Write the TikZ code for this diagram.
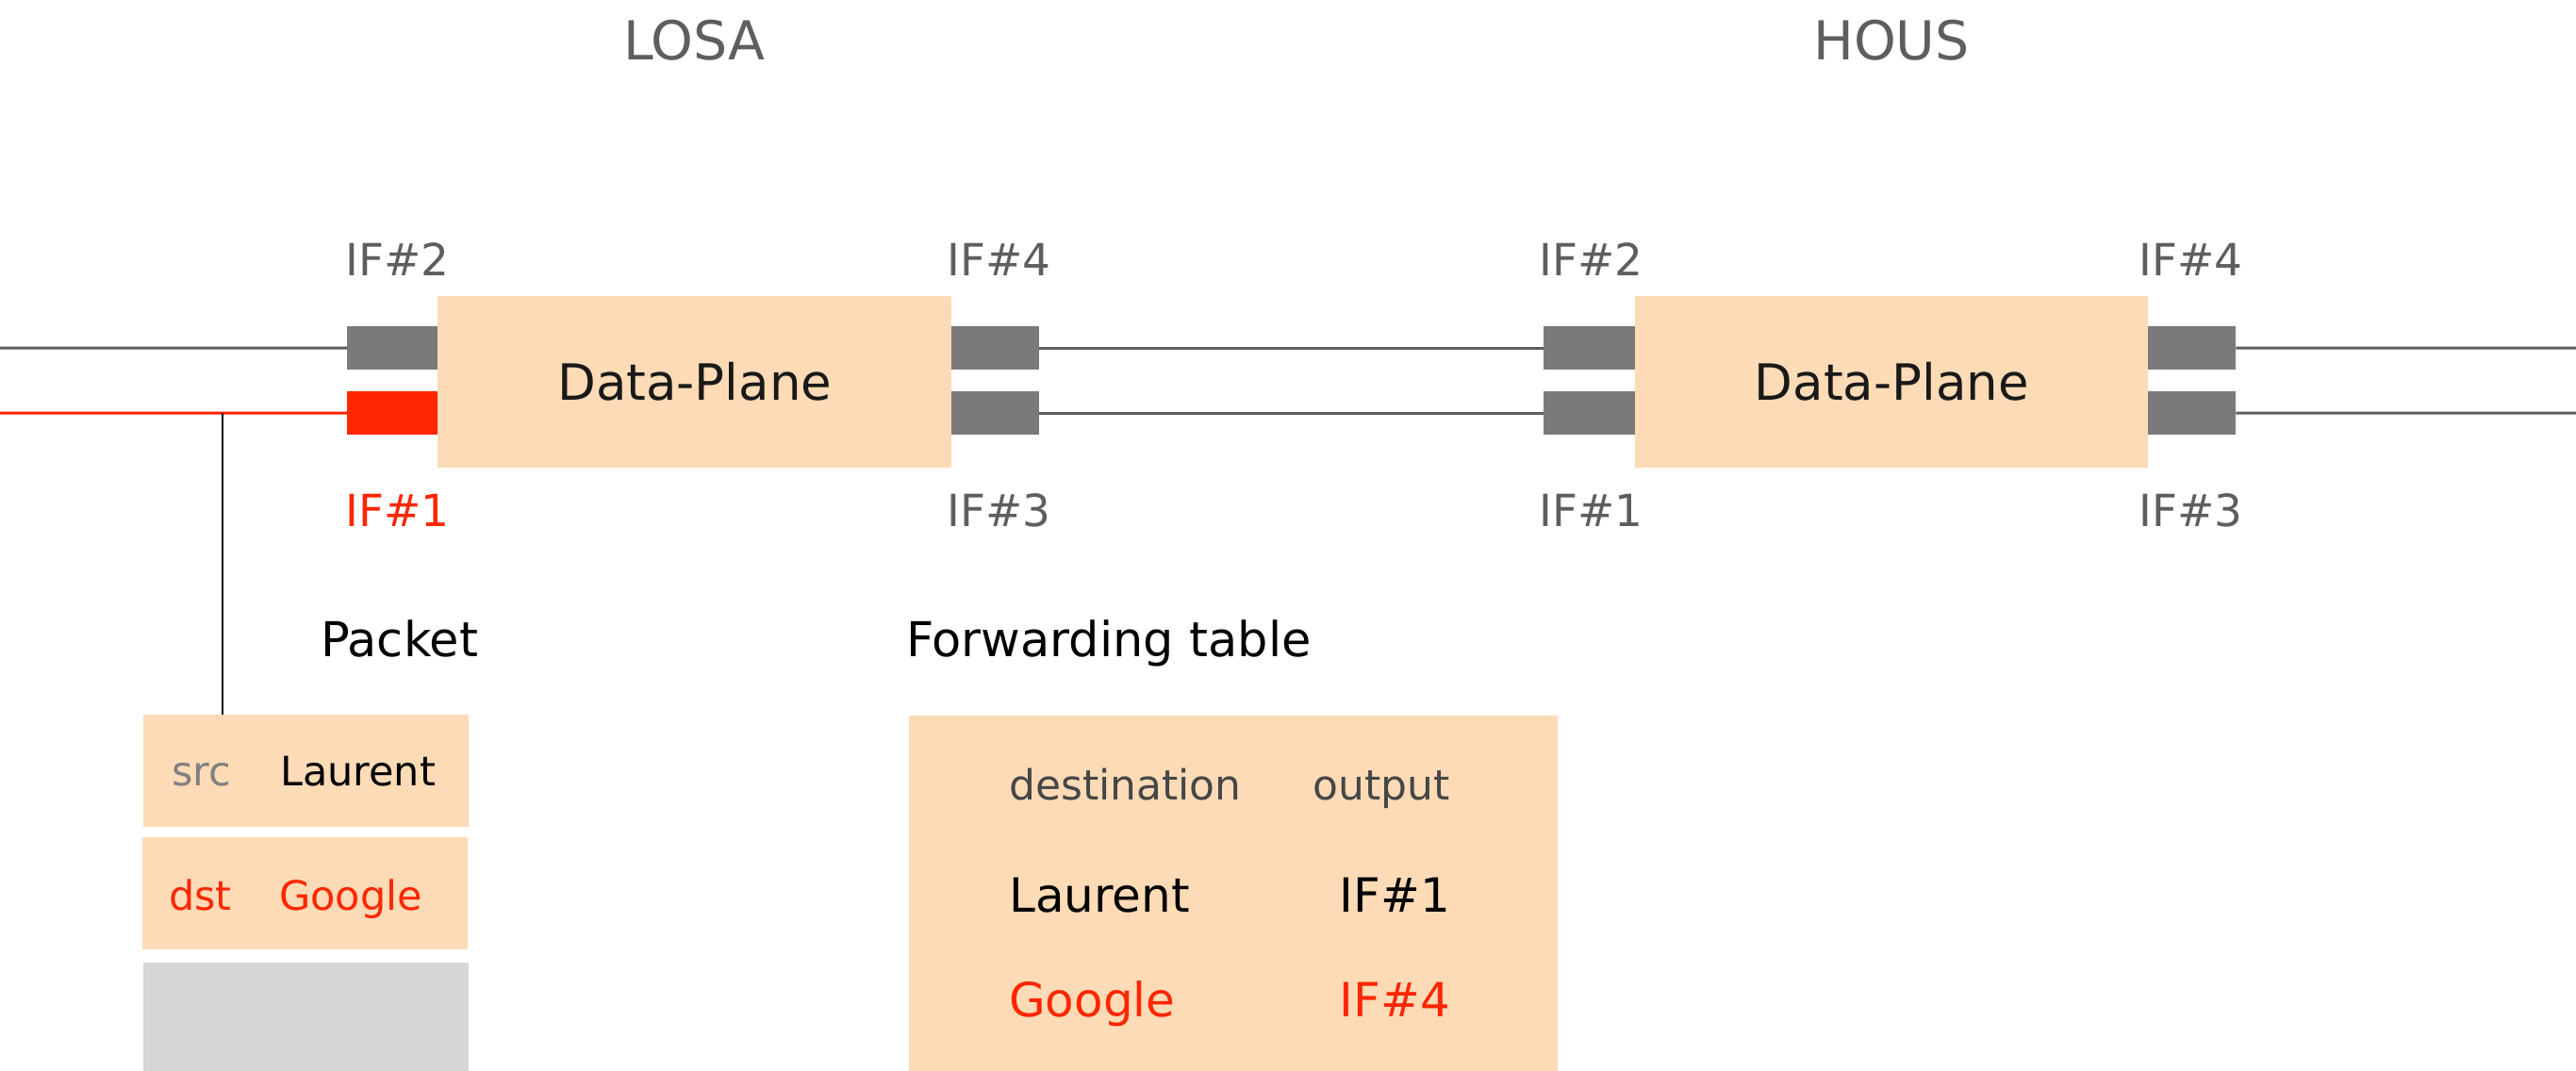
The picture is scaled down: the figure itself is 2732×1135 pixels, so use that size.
\documentclass[tikz,border=0pt]{standalone}
\usepackage{fontspec}
\setmainfont{DejaVu Sans}
\definecolor{peach}{HTML}{FDDBB6}
\definecolor{ifred}{HTML}{FF2600}
\definecolor{portgray}{HTML}{7A7A7A}
\definecolor{linegray}{HTML}{5E5E5E}
\definecolor{txtgray}{HTML}{5E5E5E}
\definecolor{srcgray}{HTML}{808080}
\definecolor{hdrgray}{HTML}{464646}
\definecolor{pktgray}{HTML}{D6D6D6}
\newcommand{\fsz}[1]{\fontsize{#1}{#1}\selectfont}
\tikzset{
  plane/.style={fill=peach, draw=none, minimum width=545pt, minimum height=182pt, inner sep=0pt, anchor=north west, font=\fsz{53}, text=black!90},
  port/.style={fill=portgray, draw=none, minimum height=46pt, inner sep=0pt, anchor=north west},
  iflbl/.style={text=txtgray, font=\fsz{47}, inner sep=0pt, anchor=base west},
  title/.style={text=txtgray, font=\fsz{57}, inner sep=0pt, anchor=base},
  wire/.style={draw=linegray, line width=3pt},
  pkt/.style={fill=peach, draw=none, minimum width=345pt, minimum height=119pt, inner sep=0pt, anchor=north west},
  heading/.style={text=black, font=\fsz{51}, inner sep=0pt, anchor=base west},
  pkttxt/.style={font=\fsz{43}, inner sep=0pt, anchor=base west},
  tbltxt/.style={font=\fsz{50}, inner sep=0pt},
  hdrtxt/.style={font=\fsz{44}, inner sep=0pt, text=hdrgray},
}
\begin{document}
\begin{tikzpicture}[x=1pt,y=-1pt]
\useasboundingbox (0,0) rectangle (2732,1135);
\clip (0,0) rectangle (2732,1135);

% titles
\node[title] (losa) at (736.5,63) {LOSA};
\node[title] (hous) at (2006,63) {HOUS};

% data planes
\node[plane] (dp1) at (464,314) {Data-Plane};
\node[plane, minimum width=544pt] (dp2) at (1734,314) {Data-Plane};

% ports
\node[port, minimum width=96pt] (p1if2) at (368,346) {};
\node[port, minimum width=96pt, fill=ifred] (p1if1) at (368,415) {};
\node[port, minimum width=93pt] (p1if4) at (1009,346) {};
\node[port, minimum width=93pt] (p1if3) at (1009,415) {};
\node[port, minimum width=97pt] (p2if2) at (1637,346) {};
\node[port, minimum width=97pt] (p2if1) at (1637,415) {};
\node[port, minimum width=93pt] (p2if4) at (2278,346) {};
\node[port, minimum width=93pt] (p2if3) at (2278,415) {};

% wires
\coordinate (w1) at (0,369);
\coordinate (w2) at (0,438);
\coordinate (e1) at (2732,369);
\coordinate (e2) at (2732,438);
\draw[wire] (w1) -- (p1if2.west);
\draw[wire, draw=ifred] (w2) -- (p1if1.west);
\draw[wire] (p1if4.east) -- (p2if2.west);
\draw[wire] (p1if3.east) -- (p2if1.west);
\draw[wire] (p2if4.east) -- (e1);
\draw[wire] (p2if3.east) -- (e2);

% interface labels
\node[iflbl] (l1if2) at (366,292) {IF\#2};
\node[iflbl, text=ifred] (l1if1) at (366,558) {IF\#1};
\node[iflbl] (l1if4) at (1004,292) {IF\#4};
\node[iflbl] (l1if3) at (1004,558) {IF\#3};
\node[iflbl] (l2if2) at (1632,292) {IF\#2};
\node[iflbl] (l2if1) at (1632,558) {IF\#1};
\node[iflbl] (l2if4) at (2268,292) {IF\#4};
\node[iflbl] (l2if3) at (2268,558) {IF\#3};

% packet
\node[heading] (pktlbl) at (340,696) {Packet};
\node[pkt] (src) at (152,758) {};
\node[pkt] (dst) at (151,888) {};
\node[pkt, fill=pktgray, minimum height=130pt] (rest) at (152,1021) {};
\node[pkttxt, text=srcgray] (srck) at (182,833) {src};
\node[pkttxt, text=black] (srcv) at (297,833) {Laurent};
\node[pkttxt, text=ifred] (dstk) at (179,965) {dst};
\node[pkttxt, text=ifred] (dstv) at (296,965) {Google};
\coordinate (tap) at (236,438);
\draw[line width=2pt, black] (tap) -- (tap |- src.north);

% forwarding table
\node[heading, font=\fsz{51}] (fwdlbl) at (961,696) {Forwarding table};
\node[fill=peach, draw=none, minimum width=688pt, minimum height=400pt, inner sep=0pt, anchor=north west] (tbl) at (964,759) {};
\node[hdrtxt, anchor=base west] (hdst) at (1070,848) {destination};
\node[hdrtxt, anchor=base east] (hout) at (1538,848) {output};
\node[tbltxt, anchor=base west, text=black] (r1d) at (1070,967) {Laurent};
\node[tbltxt, anchor=base east, text=black] (r1o) at (1538,967) {IF\#1};
\node[tbltxt, anchor=base west, text=ifred] (r2d) at (1070,1078) {Google};
\node[tbltxt, anchor=base east, text=ifred] (r2o) at (1538,1078) {IF\#4};
\end{tikzpicture}
\end{document}
